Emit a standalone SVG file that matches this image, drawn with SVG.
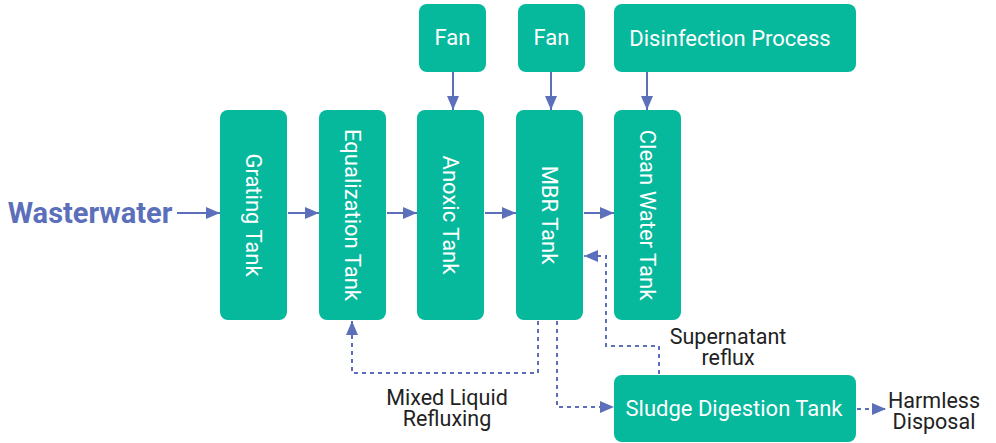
<svg xmlns="http://www.w3.org/2000/svg" width="996" height="443" viewBox="0 0 996 443">
<style>
.box{fill:#06b89c;}
.bt{font-family:Roboto,"Liberation Sans",sans-serif;font-size:22px;fill:#ffffff;text-anchor:middle;dominant-baseline:central;}
.lb{font-family:Roboto,"Liberation Sans",sans-serif;font-size:21.5px;fill:#222222;text-anchor:middle;}
.ln{stroke:#5b6fba;stroke-width:2;fill:none;}
.ds{stroke:#5b6fba;stroke-width:2;fill:none;stroke-dasharray:4 4;}
</style>
<defs>
<marker id="ah" viewBox="0 0 14 12" refX="14" refY="6" markerWidth="14" markerHeight="12" markerUnits="userSpaceOnUse" orient="auto">
<path d="M0,0 L14,6 L0,12 z" fill="#5b6fba"/>
</marker>
</defs>
<g id="connectors">
<line class="ln" x1="177" y1="213" x2="220" y2="213" marker-end="url(#ah)"/>
<line class="ln" x1="288" y1="213" x2="319" y2="213" marker-end="url(#ah)"/>
<line class="ln" x1="387" y1="213" x2="417" y2="213" marker-end="url(#ah)"/>
<line class="ln" x1="485" y1="213" x2="516" y2="213" marker-end="url(#ah)"/>
<line class="ln" x1="584" y1="213" x2="614" y2="213" marker-end="url(#ah)"/>
<line class="ln" x1="453" y1="72" x2="453" y2="110" marker-end="url(#ah)"/>
<line class="ln" x1="551" y1="72" x2="551" y2="110" marker-end="url(#ah)"/>
<line class="ln" x1="647" y1="72" x2="647" y2="110" marker-end="url(#ah)"/>
<polyline class="ds" points="538,321 538,373 352,373 352,321" marker-end="url(#ah)"/>
<polyline class="ds" points="557,321 557,407 614,407" marker-end="url(#ah)"/>
<polyline class="ds" points="659,374 659,346 606,346 606,256 584,256" marker-end="url(#ah)"/>
<line class="ds" x1="857" y1="409" x2="886" y2="409" marker-end="url(#ah)"/>
</g>
<g id="n-wastewater"><text x="90" y="223" style="font-family:Roboto,'Liberation Sans',sans-serif;font-size:29px;font-weight:bold;fill:#5b6fba;text-anchor:middle;">Wasterwater</text></g>
<g id="n-grating"><rect class="box" x="220" y="110" width="67" height="210" rx="8"/><text class="bt" transform="translate(253.5,215) rotate(90)">Grating Tank</text></g>
<g id="n-equalization"><rect class="box" x="319" y="110" width="67" height="210" rx="8"/><text class="bt" transform="translate(352.5,215) rotate(90)">Equalization Tank</text></g>
<g id="n-anoxic"><rect class="box" x="417" y="110" width="67" height="210" rx="8"/><text class="bt" transform="translate(450.5,215) rotate(90)">Anoxic Tank</text></g>
<g id="n-mbr"><rect class="box" x="516" y="110" width="67" height="210" rx="8"/><text class="bt" transform="translate(549.5,215) rotate(90)">MBR Tank</text></g>
<g id="n-clean"><rect class="box" x="614" y="110" width="67" height="210" rx="8"/><text class="bt" transform="translate(647.5,215) rotate(90)">Clean Water Tank</text></g>
<g id="n-fan1"><rect class="box" x="419" y="4" width="67" height="68" rx="8"/><text class="bt" x="452.5" y="37">Fan</text></g>
<g id="n-fan2"><rect class="box" x="518" y="4" width="67" height="68" rx="8"/><text class="bt" x="551.5" y="37">Fan</text></g>
<g id="n-disinfection"><rect class="box" x="614" y="4" width="242" height="68" rx="8"/><text class="bt" x="730" y="38">Disinfection Process</text></g>
<g id="n-sludge"><rect class="box" x="614" y="375" width="242" height="67" rx="8"/><text class="bt" x="734" y="408">Sludge Digestion Tank</text></g>
<g id="labels">
<text class="lb" x="447" y="405">Mixed Liquid</text>
<text class="lb" x="447" y="426">Refluxing</text>
<text class="lb" x="728" y="344">Supernatant</text>
<text class="lb" x="728" y="365">reflux</text>
<text class="lb" x="934" y="408">Harmless</text>
<text class="lb" x="934" y="429">Disposal</text>
</g>
</svg>
